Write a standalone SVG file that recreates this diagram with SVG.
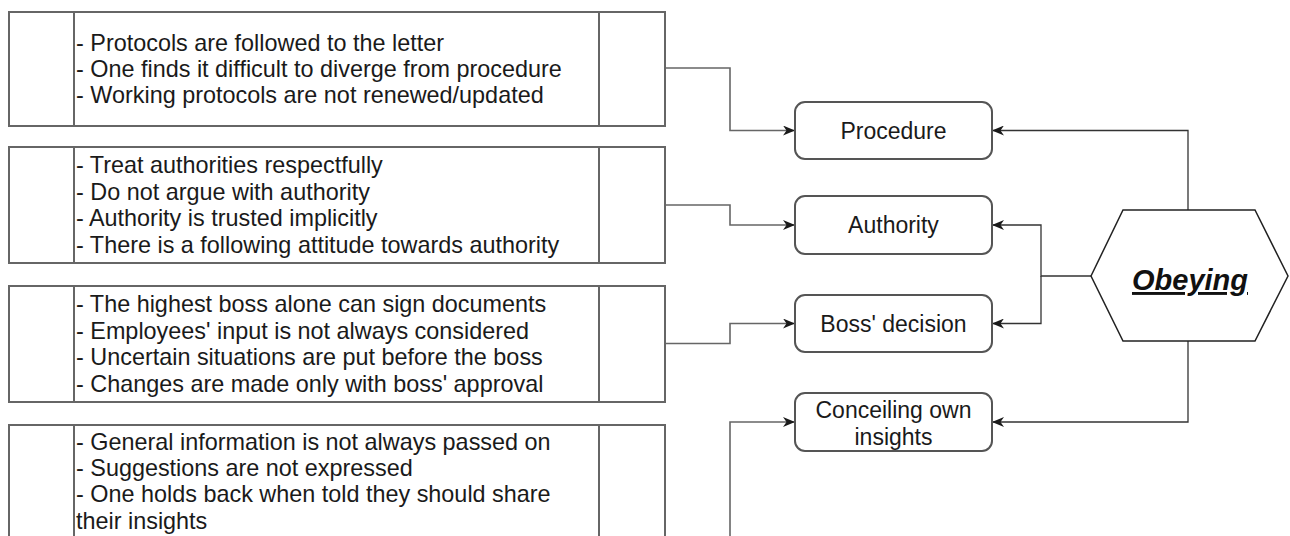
<svg xmlns="http://www.w3.org/2000/svg" width="1290" height="536" viewBox="0 0 1290 536">
<style>
  .lbox { fill: #ffffff; stroke: #666666; stroke-width: 2; }
  .div { stroke: #666666; stroke-width: 2; fill: none; }
  .rbox { fill: #ffffff; stroke: #555555; stroke-width: 2; }
  .hex { fill: #ffffff; stroke: #222222; stroke-width: 1.5; }
  .t { font-family: "Liberation Sans", Arial, sans-serif; font-size: 23.4px; fill: #1a1a1a; }
  .c { font-family: "Liberation Sans", Arial, sans-serif; font-size: 23px; fill: #1a1a1a; text-anchor: middle; }
  .hx { font-family: "Liberation Sans", Arial, sans-serif; font-size: 29px; font-weight: bold; font-style: italic; text-decoration: underline; fill: #111111; text-anchor: middle; }
  .cl { fill: none; stroke: #666666; stroke-width: 1.6; }
  .cr { fill: none; stroke: #333333; stroke-width: 1.3; }
</style>
<defs>
  <marker id="arr" viewBox="0 0 12 10" refX="12" refY="5" markerWidth="12" markerHeight="10" orient="auto" markerUnits="userSpaceOnUse">
    <path d="M0,0 L12,5 L0,10 L3.5,5 Z" fill="#1a1a1a"/>
  </marker>
</defs>
<rect width="1290" height="536" fill="#ffffff"/>

<g id="connectors">
  <path class="cl" d="M665,68 H730 V130.5 H795" marker-end="url(#arr)"/>
  <path class="cl" d="M665,205 H730 V225 H795" marker-end="url(#arr)"/>
  <path class="cl" d="M665,343.5 H730 V323.5 H795" marker-end="url(#arr)"/>
  <path class="cl" d="M665,545 H730 V422 H795" marker-end="url(#arr)"/>
  <path class="cr" d="M1188,210 V130.5 H992" marker-end="url(#arr)"/>
  <path class="cr" d="M1091,276 H1041 V225 H992" marker-end="url(#arr)"/>
  <path class="cr" d="M1041,276 V323.5 H992" marker-end="url(#arr)"/>
  <path class="cr" d="M1188,341 V422 H992" marker-end="url(#arr)"/>
</g>

<g id="box-procedure-list">
  <rect class="lbox" x="9" y="12" width="656" height="114"/>
  <line class="div" x1="74" y1="12" x2="74" y2="126"/>
  <line class="div" x1="599" y1="12" x2="599" y2="126"/>
  <text class="t" x="76" y="50.6">- Protocols are followed to the letter</text>
  <text class="t" x="76" y="77">- One finds it difficult to diverge from procedure</text>
  <text class="t" x="76" y="103.4">- Working protocols are not renewed/updated</text>
</g>

<g id="box-authority-list">
  <rect class="lbox" x="9" y="147" width="656" height="116"/>
  <line class="div" x1="74" y1="147" x2="74" y2="263"/>
  <line class="div" x1="599" y1="147" x2="599" y2="263"/>
  <text class="t" x="76" y="173.4">- Treat authorities respectfully</text>
  <text class="t" x="76" y="199.8">- Do not argue with authority</text>
  <text class="t" x="76" y="226.2">- Authority is trusted implicitly</text>
  <text class="t" x="76" y="252.6">- There is a following attitude towards authority</text>
</g>

<g id="box-boss-list">
  <rect class="lbox" x="9" y="286" width="656" height="116"/>
  <line class="div" x1="74" y1="286" x2="74" y2="402"/>
  <line class="div" x1="599" y1="286" x2="599" y2="402"/>
  <text class="t" x="76" y="312.4">- The highest boss alone can sign documents</text>
  <text class="t" x="76" y="338.8">- Employees' input is not always considered</text>
  <text class="t" x="76" y="365.2">- Uncertain situations are put before the boss</text>
  <text class="t" x="76" y="391.6">- Changes are made only with boss' approval</text>
</g>

<g id="box-conceal-list">
  <rect class="lbox" x="9" y="425" width="656" height="140"/>
  <line class="div" x1="74" y1="425" x2="74" y2="565"/>
  <line class="div" x1="599" y1="425" x2="599" y2="565"/>
  <text class="t" x="76" y="449.8">- General information is not always passed on</text>
  <text class="t" x="76" y="476.1">- Suggestions are not expressed</text>
  <text class="t" x="76" y="502.4">- One holds back when told they should share</text>
  <text class="t" x="76" y="528.7">their insights</text>
</g>

<g id="node-procedure">
  <rect class="rbox" x="795" y="102" width="197" height="57" rx="10"/>
  <text class="c" x="893.5" y="138.5">Procedure</text>
</g>
<g id="node-authority">
  <rect class="rbox" x="795" y="196" width="197" height="58" rx="10"/>
  <text class="c" x="893.5" y="233">Authority</text>
</g>
<g id="node-boss">
  <rect class="rbox" x="795" y="295" width="197" height="57" rx="10"/>
  <text class="c" x="893.5" y="331.5">Boss' decision</text>
</g>
<g id="node-conceal">
  <rect class="rbox" x="795" y="393" width="197" height="58" rx="10"/>
  <text class="c" x="893.5" y="418">Conceiling own</text>
  <text class="c" x="893.5" y="444.5">insights</text>
</g>

<g id="node-obeying">
  <polygon class="hex" points="1091,276 1123,210 1255,210 1288,276 1255,341 1123,341"/>
  <text class="hx" x="1190" y="290">Obeying</text>
</g>
</svg>
